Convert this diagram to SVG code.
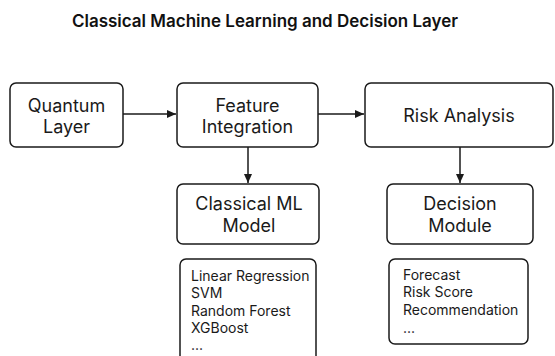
<svg xmlns="http://www.w3.org/2000/svg" width="555" height="356" viewBox="0 0 555 356">
<defs>
<marker id="ah" markerWidth="10" markerHeight="10" refX="9" refY="5" orient="auto" markerUnits="userSpaceOnUse">
<path d="M0,1 L9,5 L0,9 Z" fill="#1a1a1a"/>
</marker>
<style>
.box{fill:#fff;stroke:#1a1a1a;stroke-width:1.5}
.t{font-family:Inter,"Liberation Sans",sans-serif;font-size:18px;fill:#1a1a1a;text-anchor:middle}
.l{font-family:Inter,"Liberation Sans",sans-serif;font-size:14px;fill:#1a1a1a}
.title{font-family:Inter,"Liberation Sans",sans-serif;font-size:17px;font-weight:600;fill:#111;text-anchor:middle}
.c{stroke:#1a1a1a;stroke-width:1.5;fill:none;marker-end:url(#ah)}
</style>
</defs>
<rect width="555" height="356" fill="#fff"/>
<text class="title" x="265" y="27">Classical Machine Learning and Decision Layer</text>
<g id="connectors">
<line class="c" x1="123" y1="114" x2="176" y2="114"/>
<line class="c" x1="318" y1="114" x2="364" y2="114"/>
<line class="c" x1="248" y1="147" x2="248" y2="183"/>
<line class="c" x1="460" y1="147" x2="460" y2="183"/>
</g>
<g id="quantum-layer">
<rect class="box" x="10" y="83" width="113" height="64" rx="6"/>
<text class="t" x="66.5" y="112">Quantum</text>
<text class="t" x="66.5" y="133">Layer</text>
</g>
<g id="feature-integration">
<rect class="box" x="177" y="83" width="141" height="64" rx="6"/>
<text class="t" x="247.5" y="112">Feature</text>
<text class="t" x="247.5" y="133">Integration</text>
</g>
<g id="risk-analysis">
<rect class="box" x="365" y="83" width="188" height="64" rx="6"/>
<text class="t" x="459" y="122">Risk Analysis</text>
</g>
<g id="classical-ml-model">
<rect class="box" x="177" y="184" width="142" height="60" rx="6"/>
<text class="t" x="249" y="210">Classical ML</text>
<text class="t" x="249" y="232">Model</text>
</g>
<g id="decision-module">
<rect class="box" x="387" y="184" width="146" height="60" rx="6"/>
<text class="t" x="460" y="210">Decision</text>
<text class="t" x="460" y="232">Module</text>
</g>
<g id="ml-list">
<rect class="box" x="180" y="259" width="136" height="110" rx="6"/>
<text class="l" x="191" y="281">Linear Regression</text>
<text class="l" x="191" y="298">SVM</text>
<text class="l" x="191" y="316">Random Forest</text>
<text class="l" x="191" y="333">XGBoost</text>
<text class="l" x="191" y="350">...</text>
</g>
<g id="decision-list">
<rect class="box" x="389" y="259" width="139" height="85" rx="6"/>
<text class="l" x="403" y="280">Forecast</text>
<text class="l" x="403" y="297">Risk Score</text>
<text class="l" x="403" y="315">Recommendation</text>
<text class="l" x="403" y="333">...</text>
</g>
</svg>
